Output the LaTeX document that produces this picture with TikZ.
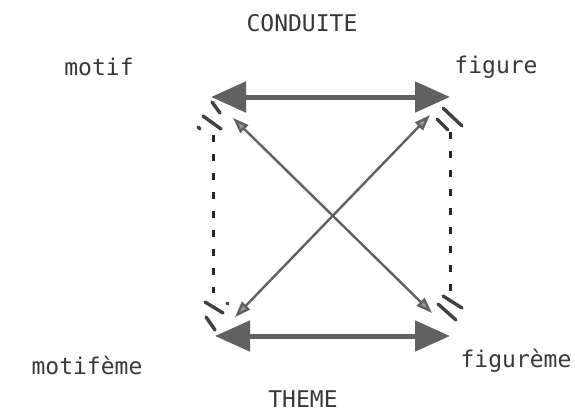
\documentclass[tikz,border=0pt]{standalone}
\usepackage{fontspec}
\setmainfont{DejaVu Sans Mono}
\usetikzlibrary{arrows.meta}
\begin{document}
\begin{tikzpicture}[x=1pt,y=-1pt,
  lbl/.style={font=\fontsize{23}{26}\selectfont, text=black!78, inner sep=0pt},
  bigarrow/.style={line width=5pt, draw=black!62,
    {Triangle[length=35pt,width=30pt,fill=black!62]}-{Triangle[length=35pt,width=30pt,fill=black!62]}},
  diagarrow/.style={line width=2.4pt, draw=black!62,
    {Triangle[length=16pt,width=11pt,fill=black!40]}-{Triangle[length=16pt,width=11pt,fill=black!40]}},
  dashline/.style={line width=3pt, draw=black!85, dash pattern=on 7pt off 12pt},
  hatch/.style={line width=3.4pt, draw=black!75, line cap=round}]
\useasboundingbox (0,0) rectangle (575,415);

% labels
\node[lbl] (conduite) at (302,23) {CONDUITE};
\node[lbl] (motif) at (99,67) {motif};
\node[lbl] (figure) at (496,67) {figure};
\node[lbl] (motifeme) at (87,365) {motifème};
\node[lbl] (figureme) at (516,361) {figurème};
\node[lbl] (theme) at (303,399) {THEME};

% corner points
\coordinate (tl) at (211,97);
\coordinate (tr) at (450,97);
\coordinate (bl) at (215,336);
\coordinate (br) at (450,336);
\coordinate (dtl) at (233,118);
\coordinate (dbr) at (432,313);
\coordinate (dtr) at (430,115);
\coordinate (dbl) at (235,317);
\coordinate (vlt) at (213,135);
\coordinate (vlb) at (213,293);
\coordinate (vrt) at (450,132);
\coordinate (vrb) at (450,297);

% horizontal double arrows
\draw[bigarrow] (tl) -- (tr);
\draw[bigarrow] (bl) -- (br);

% diagonals
\draw[diagarrow] (dtl) -- (dbr);
\draw[diagarrow] (dtr) -- (dbl);

% dashed verticals
\draw[dashline] (vlt) -- (vlb);
\draw[dashline] (vrt) -- (vrb);

% hatch marks at corners
\draw[hatch] (212,102) -- (220,113);
\draw[hatch] (203,116) -- (221,129);
\draw[hatch] (198,127) -- (200,129);
\draw[hatch] (443,108) -- (462,126);
\draw[hatch] (437,119) -- (448,130);
\draw[hatch] (205,302) -- (223,313);
\draw[hatch] (206,317) -- (215,330);
\draw[hatch] (227,303) -- (228,304);
\draw[hatch] (443,296) -- (462,308);
\draw[hatch] (438,304) -- (456,320);
\end{tikzpicture}
\end{document}
